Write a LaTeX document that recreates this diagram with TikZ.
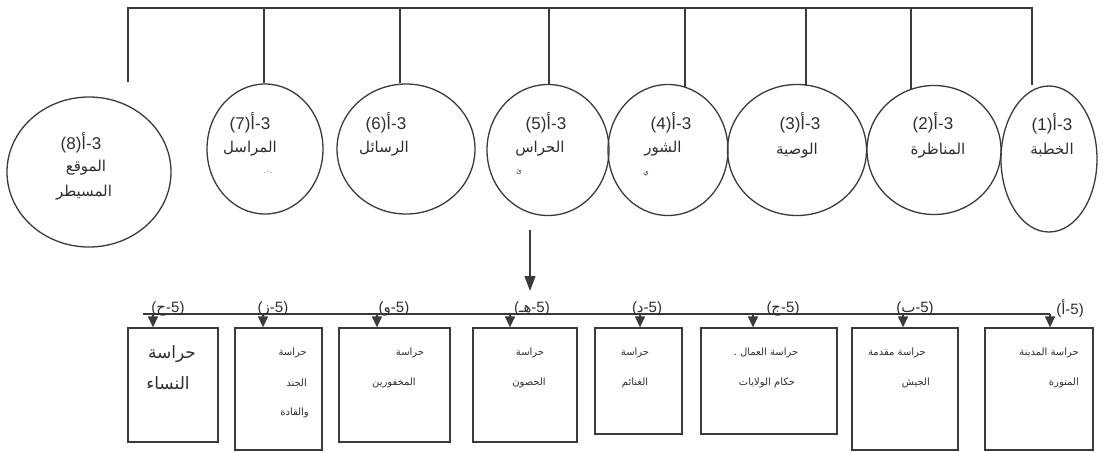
\documentclass[tikz,border=0pt]{standalone}
\usepackage{fontspec}
\setmainfont{Liberation Sans}
\newfontfamily\ar[Script=Arabic]{DejaVu Sans}
\TeXXeTstate=1
\usetikzlibrary{shapes.geometric,arrows.meta}
\definecolor{linec}{HTML}{3A3A3A}
\definecolor{txtc}{HTML}{2E2E2E}
\tikzset{
  ln/.style={draw=linec,line width=1.3pt},
  circ/.style={ellipse,draw=linec,line width=1.3pt,inner sep=0pt},
  boxn/.style={rectangle,draw=linec,line width=1.3pt,inner sep=0pt},
  big/.style={text=txtc,inner sep=0pt,font=\ar\fontsize{15}{15}\selectfont},
  num/.style={text=txtc,inner sep=0pt,font=\fontsize{17}{17}\selectfont},
  small/.style={text=txtc,inner sep=0pt,font=\ar\fontsize{10}{10}\selectfont},
  lab/.style={text=txtc,inner sep=0pt,font=\fontsize{15}{15}\selectfont},
  frag/.style={text=txtc,inner sep=0pt,font=\ar\fontsize{7}{7}\selectfont},
  bigarr/.style={ln,-{Triangle[length=15pt,width=11pt]}},
  smarr/.style={ln,-{Triangle[length=11pt,width=10pt]}}
}
\newcommand{\al}{{\ar أ}}
\begin{document}
\begin{tikzpicture}[x=1pt,y=-1pt]
\useasboundingbox (0,0) rectangle (1103,451);
% circles
\node[circ,minimum width=164pt,minimum height=150pt] (c8) at (89,172) {};
\node[circ,minimum width=116pt,minimum height=130pt] (c7) at (265,149) {};
\node[circ,minimum width=138pt,minimum height=130pt] (c6) at (406,149) {};
\node[circ,minimum width=122pt,minimum height=131pt] (c5) at (548,150) {};
\node[circ,minimum width=120pt,minimum height=131pt] (c4) at (668,150) {};
\node[circ,minimum width=139pt,minimum height=131pt] (c3) at (797,150) {};
\node[circ,minimum width=134pt,minimum height=129pt] (c2) at (934,150) {};
\node[circ,minimum width=96pt,minimum height=146pt] (c1) at (1049,159) {};
% top connector
\coordinate (tl) at (128,8);
\coordinate (tr) at (1032,8);
\coordinate (t8) at (128,82);
\coordinate (t7) at (264,8);
\coordinate (t6) at (400,8);
\coordinate (t5) at (549,8);
\coordinate (t4) at (685,8);
\coordinate (t3) at (806,8);
\coordinate (t2) at (911,8);
\draw[ln] (t8) -- (tl) -- (tr) -- (tr |- c1.north);
\draw[ln] (t7) -- (t7 |- c7.north);
\draw[ln] (t6) -- (t6 |- c6.north);
\draw[ln] (t5) -- (t5 |- c5.north);
\draw[ln] (t4) -- ([yshift=-3pt]t4 |- c4.north);
\draw[ln] (t3) -- ([yshift=-1pt]t3 |- c3.north);
\draw[ln] (t2) -- ([yshift=-4pt]t2 |- c2.north);
% circle texts
\node[num] (n8) at (81,143) {(8)\al-3};
\node[big] (w8a) at (86,168) {الموقع};
\node[big] (w8b) at (84,193) {المسيطر};
\node[num] (n7) at (250,123) {(7)\al-3};
\node[big] (w7) at (250,149) {المراسل};
\node[frag] (f7) at (268,172) {.٠.};
\node[num] (n6) at (386,123) {(6)\al-3};
\node[big] (w6) at (384,149) {الرسائل};
\node[num] (n5) at (546,123) {(5)\al-3};
\node[big] (w5) at (540,149) {الحراس};
\node[frag] (f5) at (519,172) {ئ};
\node[num] (n4) at (671,123) {(4)\al-3};
\node[big] (w4) at (663,149) {الشور};
\node[frag] (f4) at (646,174) {ي};
\node[num] (n3) at (800,123) {(3)\al-3};
\node[big] (w3) at (797,151) {الوصية};
\node[num] (n2) at (933,123) {(2)\al-3};
\node[big] (w2) at (938,151) {المناظرة};
\node[num] (n1) at (1052,124) {(1)\al-3};
\node[big] (w1) at (1052,150) {الخطبة};
% central arrow
\coordinate (as) at (530,230);
\coordinate (ae) at (530,291);
\draw[bigarr] (as) -- (ae);
% boxes
\node[boxn,minimum width=90pt,minimum height=114pt] (bA) at (173,385) {};
\node[boxn,minimum width=87pt,minimum height=122pt] (bB) at (278.5,389) {};
\node[boxn,minimum width=111pt,minimum height=114pt] (bC) at (394.5,385) {};
\node[boxn,minimum width=104pt,minimum height=114pt] (bD) at (525,385) {};
\node[boxn,minimum width=87pt,minimum height=106pt] (bE) at (638.5,381) {};
\node[boxn,minimum width=136pt,minimum height=106pt] (bF) at (769,381) {};
\node[boxn,minimum width=106pt,minimum height=122pt] (bG) at (905,389) {};
\node[boxn,minimum width=108pt,minimum height=122pt] (bH) at (1039,389) {};
% bottom line
\coordinate (hl) at (143,314);
\coordinate (hr) at (1050,314);
\draw[ln] (hl) -- (hr);
\coordinate (hA) at (153,314);
\coordinate (hB) at (263,314);
\coordinate (hC) at (377,314);
\coordinate (hD) at (510,314);
\coordinate (hE) at (640,314);
\coordinate (hF) at (753,314);
\coordinate (hG) at (903,314);
\draw[smarr] (hA) -- (hA |- bA.north);
\draw[smarr] (hB) -- (hB |- bB.north);
\draw[smarr] (hC) -- (hC |- bC.north);
\draw[smarr] (hD) -- (hD |- bD.north);
\draw[smarr] (hE) -- (hE |- bE.north);
\draw[smarr] (hF) -- (hF |- bF.north);
\draw[smarr] (hG) -- (hG |- bG.north);
\draw[smarr] (hr) -- (hr |- bH.north);
% labels
\node[lab] (lA) at (168,309) {({\ar ح}-5)};
\node[lab] (lB) at (273,309) {({\ar ز}-5)};
\node[lab] (lC) at (394,309) {({\ar و}-5)};
\node[lab] (lD) at (532,309) {({\ar هـ}-5)};
\node[lab] (lE) at (647,309) {({\ar د}-5)};
\node[lab] (lF) at (783,309) {({\ar ج}-5)};
\node[lab] (lG) at (915,309) {({\ar ب}-5)};
\node[lab] (lH) at (1070,309) {(\al-5)};
% box texts
\node[big,font=\ar\fontsize{17}{17}\selectfont] (xA1) at (172,354) {حراسة};
\node[big,font=\ar\fontsize{17}{17}\selectfont] (xA2) at (168,383) {النساء};
\node[small,anchor=east] (xB1) at (307,353) {حراسة};
\node[small,anchor=east] (xB2) at (307,383) {الجند};
\node[small,anchor=east] (xB3) at (309,413) {والقادة};
\node[small] (xC1) at (410,353) {حراسة};
\node[small] (xC2) at (394,383) {المخفورين};
\node[small] (xD1) at (530,353) {حراسة};
\node[small] (xD2) at (529,383) {الحصون};
\node[small] (xE1) at (635,353) {حراسة};
\node[small] (xE2) at (635,383) {الغنائم};
\node[small] (xF1) at (766,353) {\beginR حراسة العمال .\endR};
\node[small] (xF2) at (767,383) {\beginR حكام الولايات\endR};
\node[small] (xG1) at (897,353) {\beginR حراسة مقدمة\endR};
\node[small,anchor=east] (xG2) at (930,383) {الجيش};
\node[small,anchor=east] (xH1) at (1079,353) {\beginR حراسة المدينة\endR};
\node[small,anchor=east] (xH2) at (1079,383) {المنورة};
\end{tikzpicture}
\end{document}
